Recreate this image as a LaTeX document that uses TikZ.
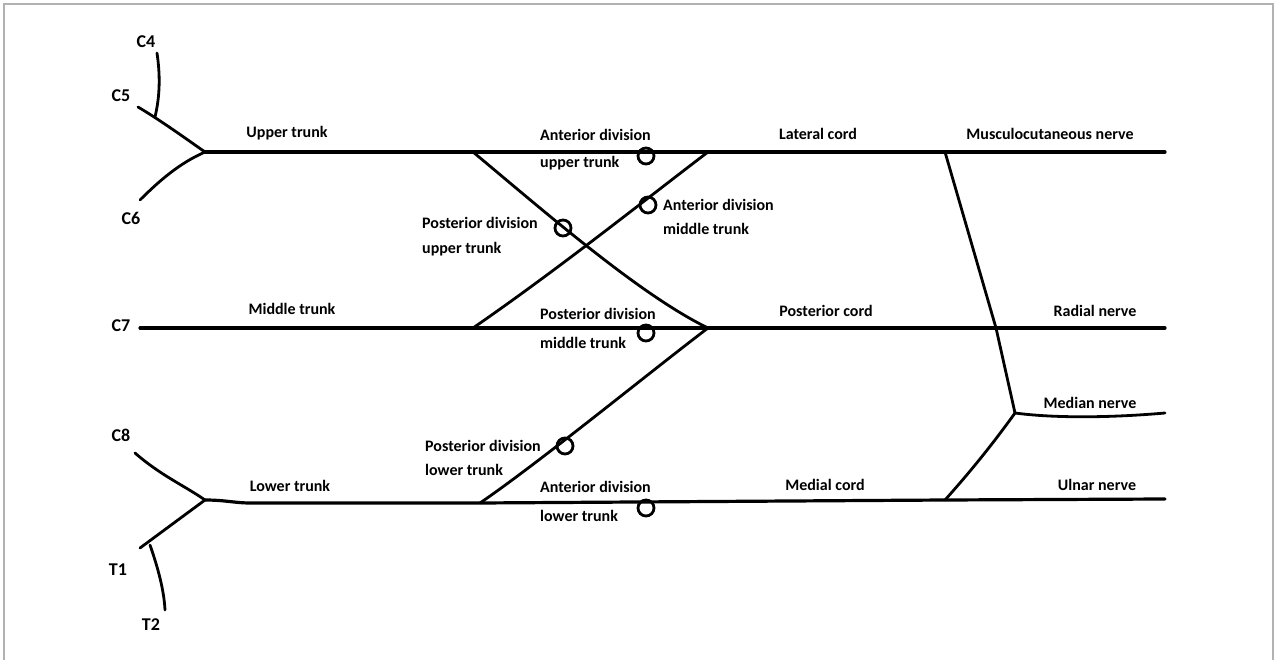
\documentclass[tikz,border=0pt]{standalone}
\usepackage{fontspec}
\setmainfont{Carlito}
\begin{document}
\begin{tikzpicture}[x=1pt,y=-1pt,
    nerve/.style={line width=3.2pt,line cap=round},
    branch/.style={line width=2.8pt,line cap=round},
    ring/.style={circle,draw,line width=2.8pt,minimum size=16pt,inner sep=0pt},
    lbl/.style={font=\bfseries\fontsize{16}{18}\selectfont,inner sep=0pt},
    root/.style={font=\bfseries\fontsize{18}{20}\selectfont,inner sep=0pt},
    dlbl/.style={lbl,align=left,anchor=west}]
\useasboundingbox (0,0) rectangle (1279,660);
\draw[black!30,line width=1.6pt] (4,660) -- (4,4) -- (1273,4) -- (1273,660);
% roots and junctions
\coordinate (c4) at (157,53);   \coordinate (c4e) at (155,117);
\coordinate (c5) at (138,107);  \coordinate (c6) at (140,200);
\coordinate (c7) at (140,328);  \coordinate (c8) at (135,453);
\coordinate (t1) at (140,548);  \coordinate (t2s) at (150,545);
\coordinate (t2) at (165,610);
\coordinate (ut) at (205,152);  \coordinate (lt) at (205,500);
\coordinate (utd) at (473,152); \coordinate (mtd) at (473,328);
\coordinate (ltd) at (480,503);
\coordinate (lc) at (708,152);  \coordinate (pc) at (708,328);
\coordinate (mc) at (945,500);  \coordinate (lcs) at (945,152);
\coordinate (rad) at (996,328); \coordinate (med) at (1015,413);
\coordinate (mce) at (1165,152); \coordinate (rne) at (1165,328);
\coordinate (mne) at (1165,413); \coordinate (une) at (1165,499);
% roots
\draw[branch] (c4) .. controls (161,80) and (159,100) .. (c4e);
\draw[branch] (c5) .. controls (160,120) and (185,138) .. (ut);
\draw[branch] (c6) .. controls (160,180) and (180,163) .. (ut);
\draw[branch] (c8) .. controls (160,475) and (185,486) .. (lt);
\draw[branch] (t1) -- (lt);
\draw[branch] (t2s) .. controls (158,568) and (164,590) .. (t2);
% trunks and cords
\draw[nerve] (ut) -- (lcs) -- (mce);
\draw[nerve] (c7) -- (pc) -- (rne);
\draw[nerve] (lt) .. controls (225,500) and (235,503) .. (250,503) -- (ltd) -- (mc) -- (une);
% divisions
\draw[branch] (utd) .. controls (545,212) and (640,295) .. (pc);
\draw[branch] (mtd) .. controls (560,268) and (650,196) .. (lc);
\draw[branch] (ltd) .. controls (540,462) and (650,372) .. (pc);
% terminal branches
\draw[branch] (lcs) -- (rad) -- (med);
\draw[branch] (mc) .. controls (970,472) and (992,445) .. (med);
\draw[branch] (med) .. controls (1060,419) and (1120,417) .. (mne);
% rings
\node[ring] (r1) at (646,156) {};
\node[ring] (r2) at (563,228) {};
\node[ring] (r3) at (648,205) {};
\node[ring] (r4) at (646,333) {};
\node[ring] (r5) at (565,446) {};
\node[ring] (r6) at (646,508) {};
% labels
\node[root] (lc4) at (146,42) {C4};
\node[root] (lc5) at (121,96) {C5};
\node[root] (lc6) at (131,218) {C6};
\node[root] (lc7) at (121,326) {C7};
\node[root] (lc8) at (121,435) {C8};
\node[root] (lt1) at (118,570) {T1};
\node[root] (lt2) at (151,625) {T2};
\node[lbl] (lut) at (287,133) {Upper trunk};
\node[lbl] (lmt) at (292,309) {Middle trunk};
\node[lbl] (llt) at (290,486) {Lower trunk};
\node[lbl] (llc) at (818,134) {Lateral cord};
\node[lbl] (lpc) at (826,311) {Posterior cord};
\node[lbl] (lmc) at (825,485) {Medial cord};
\node[lbl] (lmcn) at (1050,134) {Musculocutaneous nerve};
\node[lbl] (lrn) at (1095,311) {Radial nerve};
\node[lbl] (lmn) at (1090,403) {Median nerve};
\node[lbl] (lun) at (1097,485) {Ulnar nerve};
\node[dlbl] (laut) at (540,150) {Anterior division\\[9pt]upper trunk};
\node[dlbl] (lput) at (422,237) {Posterior division\\[7pt]upper trunk};
\node[dlbl] (lamt) at (663,217) {Anterior division\\[6pt]middle trunk};
\node[dlbl] (lpmt) at (540,328) {Posterior division\\[11pt]middle trunk};
\node[dlbl] (lplt) at (425,458) {Posterior division\\[6pt]lower trunk};
\node[dlbl] (lalt) at (540,501) {Anterior division\\[11pt]lower trunk};
\end{tikzpicture}
\end{document}
